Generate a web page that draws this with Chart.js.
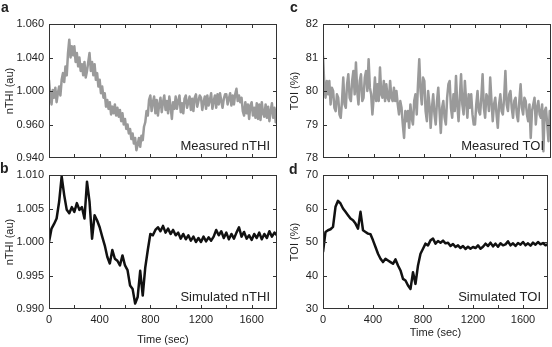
<!DOCTYPE html>
<html>
<head>
<meta charset="utf-8">
<script src="https://cdn.jsdelivr.net/npm/chart.js@4.4.0/dist/chart.umd.min.js"></script>
<style>
  html, body { margin: 0; padding: 0; background: #fff; }
  #wrap { position: relative; width: 552px; height: 347px; }
  #wrap canvas { position: absolute; left: 0; top: 0; }
</style>
</head>
<body>
<div id="wrap">
  <canvas id="panelA" width="552" height="347"></canvas>
  <canvas id="panelB" width="552" height="347"></canvas>
  <canvas id="panelC" width="552" height="347"></canvas>
  <canvas id="panelD" width="552" height="347"></canvas>
</div>
<script>
// time axis (sec) of the measured traces, one sample every 10 s
const measuredTime = [
  0, 10, 20, 30, 40, 50, 60, 70, 80, 90, 100, 110, 120, 130, 140, 150, 160, 170, 180, 190,
  200, 210, 220, 230, 240, 250, 260, 270, 280, 290, 300, 310, 320, 330, 340, 350, 360, 370, 380, 390,
  400, 410, 420, 430, 440, 450, 460, 470, 480, 490, 500, 510, 520, 530, 540, 550, 560, 570, 580, 590,
  600, 610, 620, 630, 640, 650, 660, 670, 680, 690, 700, 710, 720, 730, 740, 750, 760, 770, 780, 790,
  800, 810, 820, 830, 840, 850, 860, 870, 880, 890, 900, 910, 920, 930, 940, 950, 960, 970, 980, 990,
  1000, 1010, 1020, 1030, 1040, 1050, 1060, 1070, 1080, 1090, 1100, 1110, 1120, 1130, 1140, 1150, 1160, 1170, 1180, 1190,
  1200, 1210, 1220, 1230, 1240, 1250, 1260, 1270, 1280, 1290, 1300, 1310, 1320, 1330, 1340, 1350, 1360, 1370, 1380, 1390,
  1400, 1410, 1420, 1430, 1440, 1450, 1460, 1470, 1480, 1490, 1500, 1510, 1520, 1530, 1540, 1550, 1560, 1570, 1580, 1590,
  1600, 1610, 1620, 1630, 1640, 1650, 1660, 1670, 1680, 1690, 1700, 1710, 1720, 1730, 1740, 1750, 1760, 1770, 1780, 1790,
  1800
];

// time axis (sec) of the simulated traces, one sample every 20 s
const simulatedTime = [
  0, 20, 40, 60, 80, 100, 120, 140, 160, 180,
  200, 220, 240, 260, 280, 300, 320, 340, 360, 380,
  400, 420, 440, 460, 480, 500, 520, 540, 560, 580,
  600, 620, 640, 660, 680, 700, 720, 740, 760, 780,
  800, 820, 840, 860, 880, 900, 920, 940, 960, 980,
  1000, 1020, 1040, 1060, 1080, 1100, 1120, 1140, 1160, 1180,
  1200, 1220, 1240, 1260, 1280, 1300, 1320, 1340, 1360, 1380,
  1400, 1420, 1440, 1460, 1480, 1500, 1520, 1540, 1560, 1580,
  1600, 1620, 1640, 1660, 1680, 1700, 1720, 1740, 1760, 1780,
  1800
];

// a - measured nTHI (au)
const measuredNthi = [
  1.010, 0.996, 0.988, 1.001, 0.994, 1.003, 0.990, 0.998, 1.004, 0.996, 1.010, 1.016, 1.008, 1.022, 1.014, 1.034, 1.046, 1.030, 1.040, 1.032,
  1.040, 1.026, 1.034, 1.022, 1.030, 1.018, 1.024, 1.014, 1.026, 1.012, 1.018, 1.026, 1.034, 1.018, 1.026, 1.014, 1.024, 1.010, 1.016, 1.004,
  1.010, 0.998, 1.004, 0.994, 0.998, 0.986, 0.992, 0.984, 0.990, 0.979, 0.986, 0.980, 0.988, 0.978, 0.985, 0.977, 0.983, 0.973, 0.980, 0.970,
  0.975, 0.966, 0.970, 0.962, 0.966, 0.957, 0.962, 0.953, 0.958, 0.947, 0.952, 0.958, 0.950, 0.960, 0.956, 0.968, 0.972, 0.982, 0.978, 0.992,
  0.996, 0.982, 0.990, 0.995, 0.980, 0.992, 0.978, 0.988, 0.994, 0.981, 0.990, 0.996, 0.983, 0.991, 0.980, 0.995, 0.986, 0.975, 0.990, 0.984,
  0.995, 0.984, 0.991, 0.996, 0.981, 0.989, 0.980, 0.993, 0.996, 0.985, 0.990, 0.995, 0.983, 0.993, 0.982, 0.994, 0.997, 0.986, 0.991, 0.996,
  0.994, 0.983, 0.990, 0.995, 0.984, 0.996, 0.987, 0.992, 0.998, 0.984, 0.991, 0.996, 0.985, 0.997, 0.988, 0.998, 0.991, 0.985, 0.993, 0.997,
  0.997, 0.988, 0.993, 0.998, 0.987, 0.996, 0.988, 0.997, 1.002, 0.991, 0.996, 0.990, 0.994, 0.982, 0.978, 0.990, 0.980, 0.988, 0.975, 0.987,
  0.990, 0.978, 0.985, 0.976, 0.989, 0.975, 0.988, 0.974, 0.990, 0.980, 0.977, 0.988, 0.976, 0.986, 0.973, 0.982, 0.989, 0.976, 0.985, 0.972,
  0.984
];

// b - simulated nTHI (au)
const simulatedNthi = [
  1.0000, 1.0020, 1.0027, 1.0035, 1.0060, 1.0098, 1.0070, 1.0048, 1.0043, 1.0052,
  1.0045, 1.0058, 1.0048, 1.0052, 1.0035, 1.0090, 1.0060, 1.0005, 1.0040, 1.0032,
  1.0022, 1.0008, 0.9995, 0.9978, 0.9968, 0.9988, 0.9975, 0.9972, 0.9965, 0.9980,
  0.9965, 0.9958, 0.9935, 0.9930, 0.9908, 0.9918, 0.9957, 0.9920, 0.9962, 0.9988,
  1.0012, 1.0010, 1.0018, 1.0022, 1.0016, 1.0024, 1.0014, 1.0020, 1.0012, 1.0018,
  1.0010, 1.0014, 1.0005, 1.0012, 1.0004, 1.0010, 1.0002, 1.0008, 1.0000, 1.0006,
  1.0000, 1.0008, 1.0001, 1.0007, 1.0002, 1.0008, 1.0018, 1.0010, 1.0016, 1.0006,
  1.0014, 1.0004, 1.0012, 1.0005, 1.0014, 1.0022, 1.0008, 1.0015, 1.0005, 1.0010,
  1.0003, 1.0012, 1.0006, 1.0014, 1.0004, 1.0012, 1.0006, 1.0016, 1.0008, 1.0014,
  1.0010
];

// c - measured TOI (%)
const measuredToi = [
  81.05, 80.2, 79.8, 80.3, 79.9, 80.3, 79.6, 80.1, 80.0, 79.5, 79.4, 79.9, 79.8, 79.3, 79.2, 79.7, 80.4, 79.6, 79.5, 80.2,
  80.5, 79.8, 79.7, 80.3, 80.6, 79.9, 80.85, 80.0, 79.6, 80.3, 80.5, 79.7, 79.8, 80.4, 80.6, 80.0, 80.95, 80.1, 79.9, 79.3,
  79.8, 80.4, 79.7, 80.2, 79.7, 80.7, 79.9, 79.8, 80.3, 79.7, 80.2, 79.8, 79.7, 80.3, 79.8, 79.7, 80.1, 79.7, 80.0, 79.6,
  79.3, 79.7, 79.5, 79.0, 78.6, 79.4, 79.1, 79.4, 78.9, 79.6, 79.2, 79.0, 79.7, 79.9, 79.3, 80.2, 80.95, 80.0, 79.6, 80.4,
  80.3, 79.4, 79.1, 80.0, 79.6, 78.9, 79.5, 79.9, 79.3, 79.0, 79.7, 80.1, 79.4, 78.75, 79.5, 79.7, 79.2, 79.0, 79.8, 80.2,
  80.3, 79.5, 79.2, 79.9, 79.4, 80.45, 79.6, 79.1, 79.8, 80.5, 79.6, 79.3, 80.3, 79.7, 79.2, 79.9, 79.5, 79.9, 79.3, 79.0,
  79.0, 79.6, 80.0, 79.4, 79.3, 79.8, 80.5, 79.5, 79.2, 79.9, 79.8, 79.4, 80.4, 79.7, 79.1, 79.6, 79.8, 79.3, 78.9, 79.6,
  79.9, 79.4, 79.3, 79.8, 80.6, 79.6, 79.4, 79.9, 80.0, 79.5, 79.2, 79.7, 79.8, 79.3, 79.1, 79.7, 80.2, 79.5, 79.3, 79.8,
  79.7, 79.3, 79.1, 79.6, 78.6, 79.4, 79.6, 79.8, 79.0, 79.5, 79.7, 79.3, 79.2, 79.6, 78.2, 79.4, 79.5, 79.0, 78.5, 79.4,
  79.2
];

// d - simulated TOI (%)
const simulatedToi = [
  47.0, 53.0, 53.5, 53.8, 54.5, 60.5, 62.3, 61.5, 60.0, 59.0,
  58.0, 57.0, 56.5, 55.5, 54.0, 59.0, 53.5, 53.0, 52.5, 52.3,
  50.5, 48.5, 46.5, 45.0, 44.0, 45.0, 44.5, 44.0, 43.5, 44.8,
  43.0, 41.5, 39.0, 38.5, 37.0, 36.0, 41.0, 37.5, 43.0, 46.5,
  48.0, 49.5, 49.0, 50.5, 51.0, 49.5, 50.3, 49.8, 50.4, 49.6,
  49.8, 48.8, 49.4, 48.5, 49.0, 48.2, 48.8, 47.9, 48.6, 48.0,
  48.5, 48.2, 49.0, 48.0, 48.6, 49.5, 48.8, 49.8, 48.7, 49.5,
  48.6, 49.6, 49.0, 49.3, 50.2, 49.0, 49.6, 48.8, 49.7, 49.2,
  50.0, 49.0, 49.6, 48.9, 49.8, 49.2, 50.0, 49.3, 49.7, 49.0,
  49.4
];

// tick labels as printed on the figure
const measuredNthiTicks = ['0.940', '0.960', '1.000', '1.040', '1.060'];
const simulatedNthiTicks = ['0.990', '0.995', '1.000', '1.005', '1.010'];
const measuredToiTicks = ['78', '79', '80', '81', '82'];
const simulatedToiTicks = ['30', '40', '50', '60', '70'];
const timeTicks = ['0', '400', '800', '1200', '1600'];

const FONT = '"Liberation Sans", Arial, Helvetica, sans-serif';
Chart.defaults.font.family = FONT;
Chart.defaults.font.size = 11;
Chart.defaults.color = '#222';

// frame, inward ticks, panel letter and inner label
const panelDeco = {
  id: 'panelDeco',
  afterDraw(chart, args, opts) {
    const { ctx, chartArea: ca } = chart;
    const xs = chart.scales.x, ys = chart.scales.y;
    ctx.save();
    ctx.strokeStyle = '#333';
    ctx.lineWidth = 1;
    ctx.strokeRect(ca.left + 0.5, ca.top + 0.5, ca.right - ca.left - 1, ca.bottom - ca.top - 1);
    ctx.beginPath();
    xs.ticks.forEach(t => {
      if (t.value <= xs.min || t.value >= xs.max) return;
      const px = Math.round(xs.getPixelForValue(t.value)) + 0.5;
      ctx.moveTo(px, ca.bottom); ctx.lineTo(px, ca.bottom - 4);
      ctx.moveTo(px, ca.top); ctx.lineTo(px, ca.top + 4);
    });
    ys.ticks.forEach(t => {
      if (t.value <= ys.min || t.value >= ys.max) return;
      const py = Math.round(ys.getPixelForValue(t.value)) + 0.5;
      ctx.moveTo(ca.left, py); ctx.lineTo(ca.left + 4, py);
      ctx.moveTo(ca.right, py); ctx.lineTo(ca.right - 4, py);
    });
    ctx.stroke();

    ctx.fillStyle = '#222';
    ctx.font = '13px ' + FONT;
    ctx.textAlign = 'right';
    ctx.textBaseline = 'alphabetic';
    ctx.fillText(opts.label, ca.right - 7, ca.bottom - 8);

    ctx.font = 'bold 14px ' + FONT;
    ctx.textAlign = 'left';
    ctx.fillText(opts.letter, opts.letterX, opts.letterY);
    ctx.restore();
  }
};

function makePanel(id, times, values, lineColor, yRange, yLabels, yTitle, frame, deco) {
  return new Chart(document.getElementById(id), {
    type: 'line',
    data: {
      datasets: [{
        data: times.map((t, i) => ({ x: t, y: values[i] })),
        borderColor: lineColor,
        borderWidth: 2.5,
        borderJoinStyle: 'round',
        pointRadius: 0,
        tension: 0,
        fill: false
      }]
    },
    options: {
      responsive: false,
      animation: false,
      layout: { padding: frame.padding },
      plugins: {
        legend: { display: false },
        tooltip: { enabled: false },
        panelDeco: deco
      },
      scales: {
        x: {
          type: 'linear',
          min: 0,
          max: 1800,
          grid: { display: false, drawTicks: false },
          border: { display: false },
          ticks: {
            display: frame.showTime,
            stepSize: 200,
            padding: 4,
            maxRotation: 0,
            autoSkip: false,
            callback: (v) => timeTicks.includes(String(v)) ? String(v) : ''
          },
          title: {
            display: frame.showTime,
            text: 'Time (sec)',
            font: { size: 11, lineHeight: 1 },
            padding: { top: 0, bottom: 0 }
          },
          afterFit: (scale) => { scale.height = frame.xHeight; }
        },
        y: {
          min: yRange[0],
          max: yRange[1],
          grid: { display: false, drawTicks: false },
          border: { display: false },
          ticks: {
            stepSize: yRange[2],
            padding: 5,
            autoSkip: false,
            callback: (v, i) => yLabels[i]
          },
          title: {
            display: true,
            text: yTitle,
            font: { size: 11 },
            padding: { top: 3, bottom: 0 }
          },
          afterFit: (scale) => { scale.width = frame.yWidth; }
        }
      }
    },
    plugins: [panelDeco]
  });
}

makePanel('panelA', measuredTime, measuredNthi, '#9a9a9a', [0.94, 1.06, 0.03], measuredNthiTicks, 'nTHI (au)',
  { padding: { left: 0, top: 24, right: 275, bottom: 189 }, yWidth: 49, xHeight: 0, showTime: false },
  { letter: 'a', letterX: 1, letterY: 12, label: 'Measured nTHI' });

makePanel('panelB', simulatedTime, simulatedNthi, '#111', [0.99, 1.01, 0.005], simulatedNthiTicks, 'nTHI (au)',
  { padding: { left: 0, top: 175, right: 275, bottom: 1.5 }, yWidth: 49, xHeight: 36.5, showTime: true },
  { letter: 'b', letterX: 0, letterY: 173, label: 'Simulated nTHI' });

makePanel('panelC', measuredTime, measuredToi, '#9a9a9a', [78, 82, 1], measuredToiTicks, 'TOI (%)',
  { padding: { left: 285, top: 24, right: 1, bottom: 189 }, yWidth: 38, xHeight: 0, showTime: false },
  { letter: 'c', letterX: 290, letterY: 12, label: 'Measured TOI' });

makePanel('panelD', simulatedTime, simulatedToi, '#111', [30, 70, 10], simulatedToiTicks, 'TOI (%)',
  { padding: { left: 285, top: 175, right: 1, bottom: 8.5 }, yWidth: 38, xHeight: 29.5, showTime: true },
  { letter: 'd', letterX: 289, letterY: 174, label: 'Simulated TOI' });
</script>
</body>
</html>
